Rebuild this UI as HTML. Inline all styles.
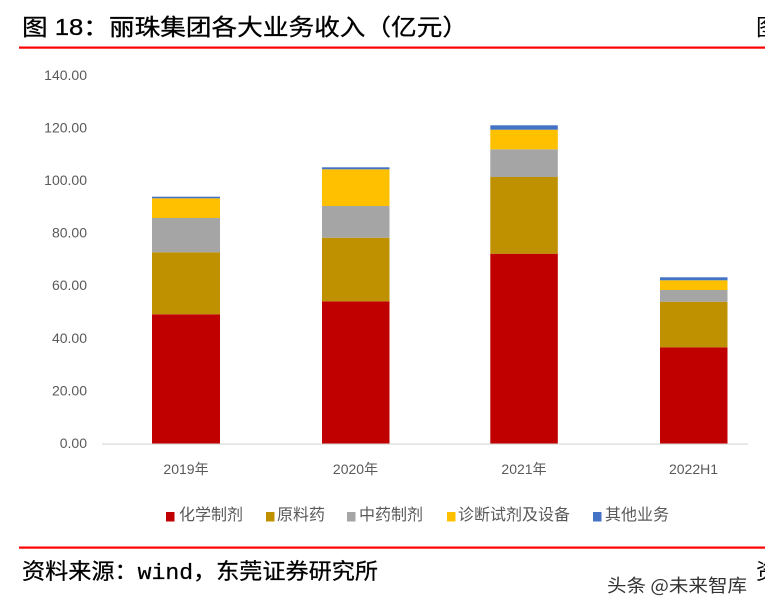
<!DOCTYPE html>
<html>
<head>
<meta charset="utf-8">
<style>
html,body{margin:0;padding:0;background:#fff;}
body{width:765px;height:612px;overflow:hidden;}
svg{display:block;}
</style>
</head>
<body>
<svg width="765" height="612" viewBox="0 0 765 612" xmlns="http://www.w3.org/2000/svg">
  <rect width="765" height="612" fill="#ffffff"/>

  <!-- Title -->
  <text x="22" y="35" font-family="'Liberation Sans','WenQuanYi Zen Hei','Noto Sans CJK SC',sans-serif" font-size="23" fill="#000" stroke="#000" stroke-width="0.3" textLength="446" lengthAdjust="spacingAndGlyphs">图 18：丽珠集团各大业务收入（亿元）</text>
  <text x="756" y="35" font-family="'WenQuanYi Zen Hei','Noto Sans CJK SC',sans-serif" font-size="23" fill="#000">图</text>
  <rect x="19" y="46.5" width="746" height="2.2" fill="#FF0000"/>

  <!-- Y axis labels -->
  <g font-family="'Liberation Sans',sans-serif" font-size="14" fill="#595959" text-anchor="end">
    <text x="87" y="448">0.00</text>
    <text x="87" y="395.4">20.00</text>
    <text x="87" y="342.8">40.00</text>
    <text x="87" y="290.2">60.00</text>
    <text x="87" y="237.6">80.00</text>
    <text x="87" y="185">100.00</text>
    <text x="87" y="132.4">120.00</text>
    <text x="87" y="79.8">140.00</text>
  </g>

  <!-- Bars 2019 -->
  <rect x="152" y="314.3" width="68" height="129.7" fill="#C00000"/>
  <rect x="152" y="252.3" width="68" height="62" fill="#BF9000"/>
  <rect x="152" y="218" width="68" height="34.3" fill="#A5A5A5"/>
  <rect x="152" y="198.3" width="68" height="19.7" fill="#FFC000"/>
  <rect x="152" y="196.7" width="68" height="1.6" fill="#4472C4"/>

  <!-- Bars 2020 -->
  <rect x="322" y="301.3" width="67.5" height="142.7" fill="#C00000"/>
  <rect x="322" y="237.7" width="67.5" height="63.6" fill="#BF9000"/>
  <rect x="322" y="206" width="67.5" height="31.7" fill="#A5A5A5"/>
  <rect x="322" y="169.3" width="67.5" height="36.7" fill="#FFC000"/>
  <rect x="322" y="167.3" width="67.5" height="2" fill="#4472C4"/>

  <!-- Bars 2021 -->
  <rect x="490.3" y="253.7" width="67.5" height="190.3" fill="#C00000"/>
  <rect x="490.3" y="177" width="67.5" height="76.7" fill="#BF9000"/>
  <rect x="490.3" y="149.3" width="67.5" height="27.7" fill="#A5A5A5"/>
  <rect x="490.3" y="129.7" width="67.5" height="19.6" fill="#FFC000"/>
  <rect x="490.3" y="125.3" width="67.5" height="4.4" fill="#4472C4"/>

  <!-- Bars 2022H1 -->
  <rect x="660" y="347.3" width="67.5" height="96.7" fill="#C00000"/>
  <rect x="660" y="301.7" width="67.5" height="45.6" fill="#BF9000"/>
  <rect x="660" y="290" width="67.5" height="11.7" fill="#A5A5A5"/>
  <rect x="660" y="280.3" width="67.5" height="9.7" fill="#FFC000"/>
  <rect x="660" y="277.3" width="67.5" height="3" fill="#4472C4"/>

  <!-- X axis -->
  <rect x="102" y="443.5" width="646" height="1.2" fill="#D9D9D9"/>

  <!-- Category labels -->
  <g font-family="'Liberation Sans','Noto Sans CJK SC',sans-serif" font-size="14" fill="#595959" text-anchor="middle">
    <text x="186" y="474">2019年</text>
    <text x="355.5" y="474">2020年</text>
    <text x="524" y="474">2021年</text>
    <text x="693.5" y="474">2022H1</text>
  </g>

  <!-- Legend -->
  <g font-family="'Noto Sans CJK SC','WenQuanYi Zen Hei',sans-serif" font-size="16" fill="#595959">
    <rect x="166" y="512" width="8.5" height="9.5" fill="#C00000"/>
    <text x="179" y="520" textLength="64" lengthAdjust="spacingAndGlyphs">化学制剂</text>
    <rect x="266" y="512" width="8.5" height="9.5" fill="#BF9000"/>
    <text x="277" y="520" textLength="48" lengthAdjust="spacingAndGlyphs">原料药</text>
    <rect x="347" y="512" width="8.5" height="9.5" fill="#A5A5A5"/>
    <text x="359" y="520" textLength="64" lengthAdjust="spacingAndGlyphs">中药制剂</text>
    <rect x="447" y="512" width="8.5" height="9.5" fill="#FFC000"/>
    <text x="458" y="520" textLength="112" lengthAdjust="spacingAndGlyphs">诊断试剂及设备</text>
    <rect x="593" y="512" width="8.5" height="9.5" fill="#4472C4"/>
    <text x="605" y="520" textLength="64" lengthAdjust="spacingAndGlyphs">其他业务</text>
  </g>

  <!-- Bottom rule and source -->
  <rect x="19" y="546.5" width="746" height="2.2" fill="#FF0000"/>
  <text x="22" y="579" font-family="'Liberation Mono','WenQuanYi Zen Hei','Noto Sans CJK SC',sans-serif" font-size="22" fill="#000" stroke="#000" stroke-width="0.25" textLength="356" lengthAdjust="spacingAndGlyphs">资料来源：wind，东莞证券研究所</text>
  <text x="756" y="579" font-family="'WenQuanYi Zen Hei','Noto Sans CJK SC',sans-serif" font-size="22" fill="#000">资</text>

  <!-- Watermark -->
  <text x="607" y="592" font-family="'Noto Sans CJK SC','WenQuanYi Zen Hei',sans-serif" font-size="18" fill="#333" stroke="#ffffff" stroke-width="0.6" paint-order="stroke" textLength="140" lengthAdjust="spacingAndGlyphs">头条 @未来智库</text>
</svg>
</body>
</html>
